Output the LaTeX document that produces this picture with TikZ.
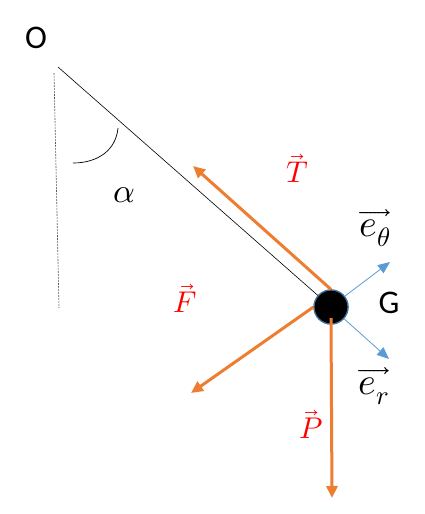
\documentclass[tikz,border=0pt]{standalone}
\usepackage{amsmath}
\usepackage{fontspec}
\usepackage{unicode-math}
\setsansfont{Carlito}
\setmathfont{Latin Modern Math}
\usetikzlibrary{arrows.meta,positioning}
\definecolor{forceorange}{HTML}{ED7D31}
\definecolor{baseblue}{HTML}{5B9BD5}
\definecolor{balledge}{HTML}{41719C}

\begin{document}
\begin{tikzpicture}[x=1pt, y=-1pt,
force/.style={forceorange, line width=3pt, -{Triangle[length=12pt,width=11pt]}},
base/.style={baseblue, line width=0.8pt, -{Triangle[length=12pt,width=10pt]}},
flabel/.style={text=red, inner sep=1pt, font=\fontsize{30}{33}\selectfont},
elabel/.style={inner sep=1pt, font=\fontsize{38}{40}\selectfont},
plain/.style={font=\sffamily\fontsize{33}{36}\selectfont}]
\useasboundingbox (0,0) rectangle (424,514);

\coordinate (O) at (58,67);
\node [plain] (o_lab) at (36,38) {O};
\node [circle, fill=black, draw=balledge, line width=1.2pt,
minimum size=34pt, inner sep=0pt] (G) at (331,307) {};
\node [plain] (g_lab) at (389,303) {G};

% fil et verticale
\draw [gray!70!black, line width=0.6pt, dash pattern=on 2pt off 1pt] (54,73) -- (59,308);
\draw [line width=0.6pt] (O) -- (G.center);
\draw [line width=0.7pt] (118,128) .. controls (116,150) and (98,163) .. (73,163);
\node (alpha) at (124,195) {\fontsize{34}{36}\selectfont$\alpha$};

% redraw ball on top of the string
\node [circle, fill=black, draw=balledge, line width=1.2pt,
minimum size=34pt, inner sep=0pt] at (G) {};

% forces
\coordinate (T_end) at (193,166);
\coordinate (F_end) at (191,393);
\coordinate (P_end) at (332,498);
\draw [force] (G.north) -- (T_end);
\draw [force] (G.west) -- (F_end);
\draw [force] ([yshift=-11pt]G.center) -- (P_end);

\node [flabel] (T_lab) at (297,168) {$\vec{T}$};
\node [flabel] (F_lab) at (185,298) {$\vec{F}$};
\node [flabel] (P_lab) at (311,424) {$\vec{P}$};

% base locale
\coordinate (eth_end) at (390,262);
\coordinate (er_end) at (389,359);
\draw [base] (G.38) -- (eth_end);
\draw [base] (G.-42) -- (er_end);
\node [elabel] (eth_lab) at (375,228) {$\overrightarrow{e_\theta}$};
\node [elabel] (er_lab) at (374,386) {$\overrightarrow{e_r}$};

\end{tikzpicture}
\end{document}
